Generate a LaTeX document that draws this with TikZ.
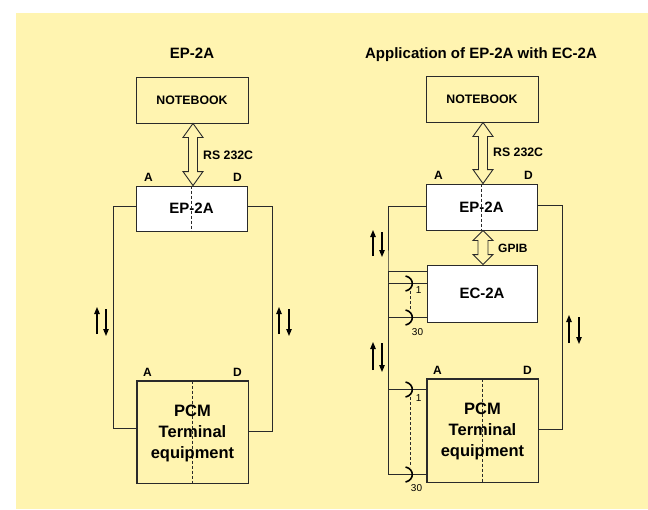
\documentclass[tikz,border=0pt]{standalone}
\usepackage{fontspec}
\setmainfont{Liberation Sans}
\usetikzlibrary{arrows.meta,calc}
\definecolor{bgyellow}{HTML}{FFF4B0}
\definecolor{lin}{HTML}{2A2A2A}
\tikzset{
  box/.style={draw=lin,line width=0.9pt,inner sep=0pt,font=\bfseries\fontsize{15}{17}\selectfont},
  nbbox/.style={box,fill=bgyellow,minimum width=112pt,minimum height=46pt,font=\bfseries\fontsize{12.3}{14}\selectfont},
  wbox/.style={box,fill=white},
  pcmbox/.style={box,fill=bgyellow,align=center,font=\bfseries\fontsize{16.5}{21}\selectfont},
  title/.style={font=\bfseries\fontsize{15}{17}\selectfont,anchor=base,inner sep=0pt},
  lbl/.style={font=\bfseries\fontsize{12}{14}\selectfont,anchor=base,inner sep=0pt},
  sidelbl/.style={font=\bfseries\fontsize{12.3}{14}\selectfont,anchor=west,inner sep=0pt},
  numlbl/.style={font=\fontsize{10}{12}\selectfont,anchor=center,inner sep=0pt},
  conn/.style={draw=lin,line width=0.9pt},
  blk/.style={draw=lin,line width=0.9pt,line join=miter},
  dirarrow/.style={draw=black,line width=1.1pt,-{Triangle[length=7pt,width=5.5pt]}},
  divider/.style={draw=lin,dashed,line width=0.7pt,dash pattern=on 3pt off 2pt},
  jack/.style={draw=black,line width=1.6pt},
}
\begin{document}
\begin{tikzpicture}[x=1pt,y=-1pt]
\useasboundingbox (0,0) rectangle (648,509);
\fill[bgyellow] (16,13) rectangle (648,509);

% titles
\node[title] (t1) at (192,58.5) {EP-2A};
\node[title] (t2) at (481,58.5) {Application of EP-2A with EC-2A};

% ---------- left diagram ----------
\node[nbbox] (nb1) at (192,100) {NOTEBOOK};
\node[wbox,minimum width=111pt,minimum height=45pt] (ep1) at (191.5,208.5) {EP-2A};
\node[pcmbox,minimum width=111pt,minimum height=102pt] (pcm1) at (192.5,432) {};
\draw[divider] (ep1.north) -- (ep1.south);
\draw[divider] (pcm1.north) -- (pcm1.south);
\node[pcmbox,draw=none,fill=none] (pcm1t) at (192.5,433.5) {PCM\\Terminal\\equipment};
\draw[conn] (pcm1.north west) rectangle (pcm1.south east);

\node[lbl] (a1) at ([shift={(13,-4.5)}]ep1.north west) {A};
\node[lbl] (d1) at ([shift={(-10,-4.5)}]ep1.north east) {D};
\node[lbl] (a2) at ([shift={(11,-4.5)}]pcm1.north west) {A};
\node[lbl] (d2) at ([shift={(-11,-4.5)}]pcm1.north east) {D};

% RS232C block arrow (left)
\coordinate (u1) at ([xshift=1pt]nb1.south);
\coordinate (v1) at (u1 |- ep1.north);
\draw[blk] (u1) -- ++(10,14) -- ++(-5.5,0) -- ([shift={(4.5,-14)}]v1) -- ++(5.5,0) -- (v1)
  -- ++(-10,-14) -- ++(5.5,0) -- ([shift={(-4.5,14)}]u1) -- ++(-5.5,0) -- cycle;
\node[sidelbl] (rs1) at ([shift={(10,32)}]u1) {RS 232C};

\draw[conn] ([yshift=2.5pt]ep1.west) -- ++(-22,0) |- ([yshift=4pt]pcm1.west);
\draw[conn] ([yshift=2.5pt]ep1.east) -- ++(25,0) |- ([yshift=1pt]pcm1.east);

\draw[dirarrow] (97,334) -- (97,307);
\draw[dirarrow] (106,309) -- (106,336);
\draw[dirarrow] (279,334) -- (279,307);
\draw[dirarrow] (289,309) -- (289,336);

% ---------- right diagram ----------
\node[nbbox] (nb2) at (482,99) {NOTEBOOK};
\node[wbox,minimum width=111pt,minimum height=46pt] (ep2) at (481.5,207) {EP-2A};
\node[wbox,minimum width=110pt,minimum height=57pt] (ec) at (482,293.5) {EC-2A};
\node[pcmbox,minimum width=111pt,minimum height=103pt] (pcm2) at (482.5,430.5) {};
\draw[divider] (ep2.north) -- (ep2.south);
\draw[divider] (pcm2.north) -- (pcm2.south);
\node[pcmbox,draw=none,fill=none] (pcm2t) at (482.5,431) {PCM\\Terminal\\equipment};
\draw[conn] (pcm2.north west) rectangle (pcm2.south east);

\node[lbl] (a3) at ([shift={(13,-4.5)}]ep2.north west) {A};
\node[lbl] (d3) at ([shift={(-9,-4.5)}]ep2.north east) {D};
\node[lbl] (a4) at ([shift={(11,-4.5)}]pcm2.north west) {A};
\node[lbl] (d4) at ([shift={(-11,-4.5)}]pcm2.north east) {D};

% RS232C block arrow (right)
\coordinate (u2) at ([xshift=1pt]nb2.south);
\coordinate (v2) at (u2 |- ep2.north);
\draw[blk] (u2) -- ++(10,14) -- ++(-5.5,0) -- ([shift={(4.5,-14)}]v2) -- ++(5.5,0) -- (v2)
  -- ++(-10,-14) -- ++(5.5,0) -- ([shift={(-4.5,14)}]u2) -- ++(-5.5,0) -- cycle;
\node[sidelbl] (rs2) at ([shift={(10,30)}]u2) {RS 232C};

% GPIB block arrow
\coordinate (u3) at ([xshift=1.5pt]ep2.south);
\coordinate (v3) at (u3 |- ec.north);
\draw[blk] (u3) -- ++(10,10) -- ++(-5,0) -- ([shift={(5,-10)}]v3) -- ++(5,0) -- (v3)
  -- ++(-10,-10) -- ++(5,0) -- ([shift={(-5,10)}]u3) -- ++(-5,0) -- cycle;
\node[sidelbl,font=\bfseries\fontsize{12}{14}\selectfont] (gp) at ([shift={(15,18)}]u3) {GPIB};

% connections
\coordinate (busx) at (388,0);
\draw[conn] ([yshift=1pt]ep2.west) -| (busx |- ec.west) |- ([yshift=22.5pt]ec.west);
\draw[conn] ([yshift=2pt]ep2.east) -- ++(25,0) |- ([yshift=1.5pt]pcm2.east);

\coordinate (e1) at ([yshift=10.5pt]ec.west);
\coordinate (e2) at ([yshift=-23.5pt]ec.west);
\coordinate (p1) at ([yshift=41.5pt]pcm2.west);
\coordinate (p2) at ([yshift=-43.5pt]pcm2.west);
\draw[conn] (e1) -- (e1 -| busx) -- (p2 -| busx) -- (p2);
\draw[conn] (e2) -- (e2 -| busx);
\draw[conn] (p1) -- (p1 -| busx);

% jacks
\foreach \c in {e1,e2,p1,p2}{
  \draw[jack] ([shift={(-21,-7)}]\c) .. controls +(9,2) and +(9,-2) .. ([shift={(-21,8)}]\c);
}
\draw[divider] ([shift={(-16,8)}]e1) -- ([shift={(-16,-7)}]e2);
\draw[divider] ([shift={(-16,8)}]p1) -- ([shift={(-16,-7)}]p2);
\node[numlbl] (n1) at ([shift={(-8,7)}]e1) {1};
\node[numlbl] (n2) at ([shift={(-9,15)}]e2) {30};
\node[numlbl] (n3) at ([shift={(-8,9)}]p1) {1};
\node[numlbl] (n4) at ([shift={(-10,14)}]p2) {30};

\draw[dirarrow] (373,256) -- (373,230);
\draw[dirarrow] (382,232) -- (382,257);
\draw[dirarrow] (373,370) -- (373,342);
\draw[dirarrow] (382,343) -- (382,372);
\draw[dirarrow] (569,343) -- (569,315);
\draw[dirarrow] (579,317) -- (579,344);
\end{tikzpicture}
\end{document}
